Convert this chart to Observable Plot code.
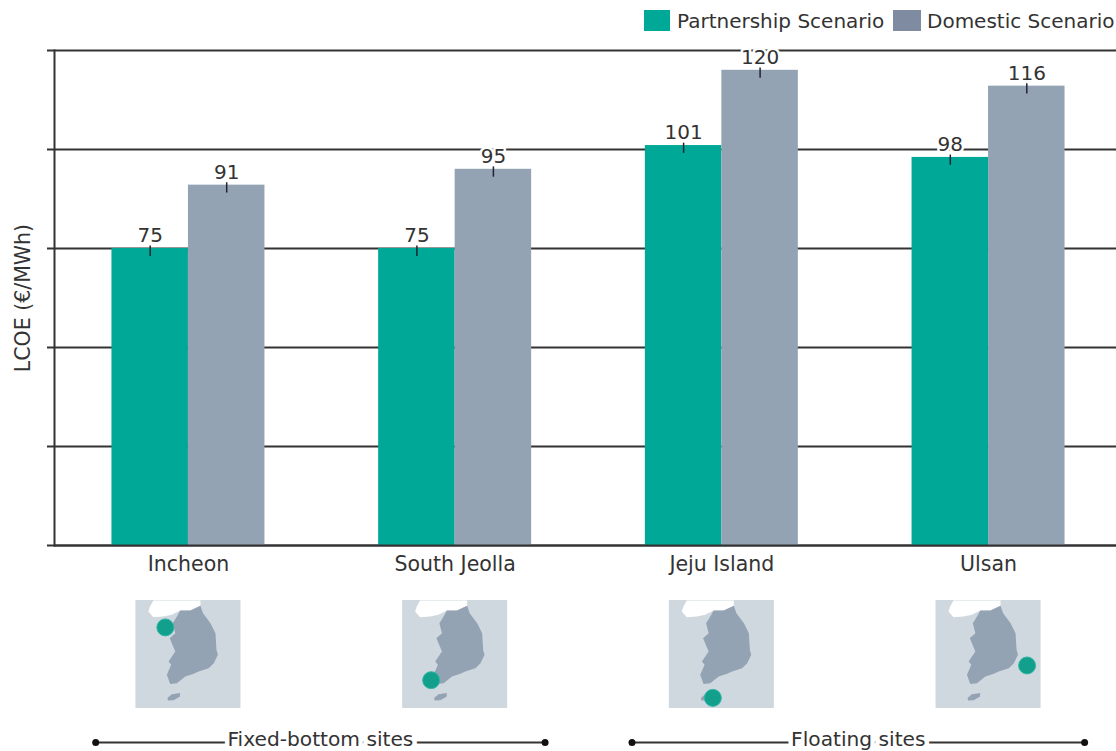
<!DOCTYPE html>
<html>
<head>
<meta charset="utf-8">
<script src="https://cdn.jsdelivr.net/npm/d3@7"></script>
<script src="https://cdn.jsdelivr.net/npm/@observablehq/plot@0.6"></script>
<style>
  html, body { margin: 0; padding: 0; background: #fff; overflow: hidden; }
  body { width: 1116px; height: 751px; font-family: "DejaVu Sans", sans-serif; color: #333; }
  svg { display: block; }
  #legend { height: 40px; position: relative; font-size: 20px; line-height: 22px; }
  #legend span { position: absolute; top: 10px; white-space: nowrap; }
  #legend i { position: absolute; top: 10px; height: 21px; display: block; }
</style>
</head>
<body>
<div id="legend"></div>
<div id="chart"></div>
<script>
const sites = ["Incheon", "South Jeolla", "Jeju Island", "Ulsan"];
const scenarios = ["Partnership Scenario", "Domestic Scenario"];
const partnership = [75, 75, 101, 98];
const domestic = [91, 95, 120, 116];
const yTicks = [0, 25, 50, 75, 100, 125];

const barColors = ["#00a898", "#94a3b4"];
const legendColors = ["#00a898", "#7f8ba1"];
const ink = "#333";

// Location dot for each site on its small map (lon, lat)
const siteLon = [126.06, 126.0, 127.0, 130.17];
const siteLat = [37.28, 34.3, 33.3, 35.13];

// Small-map outlines (lon, lat)
const southLon = [128.40, 128.57, 129.07, 129.40, 129.47, 129.56, 129.29, 128.95, 128.28, 127.95, 127.39, 126.83, 126.38, 126.16, 126.45, 126.27, 126.72, 126.35, 126.72, 126.55, 126.83, 127.05, 127.72];
const southLat = [38.50, 38.08, 37.52, 36.95, 36.01, 35.73, 35.26, 34.98, 34.79, 34.66, 34.51, 34.13, 34.09, 34.60, 35.17, 35.35, 35.92, 36.67, 36.95, 37.52, 37.90, 38.24, 38.24];
const northLon = [125.04, 125.26, 128.40, 128.40, 127.72, 127.05, 126.49, 125.93, 125.26, 124.93];
const northLat = [38.46, 38.80, 38.80, 38.50, 38.24, 38.24, 37.99, 37.90, 37.86, 38.18];
const jejuLon = [126.20, 126.49, 127.05, 127.02, 126.61, 126.24];
const jejuLat = [33.30, 33.50, 33.58, 33.36, 33.17, 33.15];
const mapLon = [124.1, 131.1];
const mapLat = [32.7, 38.8];

// Site groupings, in units of site slots (0 = Incheon ... 3 = Ulsan)
const groups = ["Fixed-bottom sites", "Floating sites"];
const groupStart = [-0.348, 1.663];
const groupEnd = [1.337, 3.36];

const slotRange = [54.6, 1121.4];
const font = {fontFamily: "DejaVu Sans"};
const barW = 76.5;
const slot = (slotRange[1] - slotRange[0]) / sites.length;

// Legend
const legend = document.getElementById("legend");
const legendLayout = [[644, 26, 677], [893, 28, 927]];
scenarios.forEach((s, i) => {
  const sw = document.createElement("i");
  sw.style.left = legendLayout[i][0] + "px";
  sw.style.width = legendLayout[i][1] + "px";
  sw.style.background = legendColors[i];
  legend.appendChild(sw);
  const t = document.createElement("span");
  t.style.left = legendLayout[i][2] + "px";
  t.textContent = s;
  legend.appendChild(t);
});

function seriesMarks(values, color, side) {
  const idx = d3.range(sites.length);
  const xs = idx.map(i => sites[i]);
  const outer = slot / 2 - barW;
  const inner = slot / 2;
  const dx = side * barW / 2;
  return [
    Plot.barY(idx, {
      x: i => xs[i], y: i => values[i], fill: color,
      insetLeft: side < 0 ? outer : inner,
      insetRight: side < 0 ? inner : outer
    }),
    Plot.text(idx, {x: i => xs[i], y: i => values[i], text: i => String(values[i]), dx, dy: -13, fontSize: 20, fill: ink, stroke: "white", strokeWidth: 5}),
    Plot.ruleX(idx, {x: i => xs[i], y1: i => values[i] + 0.6, y2: i => values[i] - 2, dx, stroke: "#223", strokeWidth: 1.5})
  ];
}

const chart = Plot.plot({
  width: 1116, height: 550,
  marginTop: 10, marginBottom: 45, marginLeft: 54, marginRight: 0,
  style: {...font, background: "transparent", color: ink},
  x: {domain: sites, range: slotRange, padding: 0, round: false, axis: null},
  y: {domain: [0, 125], axis: null},
  marks: [
    Plot.ruleY(yTicks, {stroke: ink, strokeWidth: 2}),
    Plot.axisY({ticks: yTicks, tickFormat: () => "", tickSize: 7, stroke: ink, strokeWidth: 2, label: null}),
    ...seriesMarks(partnership, barColors[0], -1),
    ...seriesMarks(domestic, barColors[1], 1),
    Plot.ruleY([0], {stroke: ink, strokeWidth: 2}),
    Plot.frame({anchor: "left", stroke: ink, strokeWidth: 2}),
    Plot.axisX({anchor: "bottom", tickSize: 0, tickPadding: 11, fontSize: 20.5, label: null}),
    Plot.text(["LCOE (€/MWh)"], {frameAnchor: "left", textAnchor: "middle", rotate: -90, dx: -31, fontSize: 20.5, fill: ink})
  ]
});
document.getElementById("chart").appendChild(chart);

// Small maps
const asPoly = (lon, lat, part) => lon.map((x, i) => ({part, x, y: lat[i]}));
const closed = {curve: "linear-closed", stroke: "none"};
const mapLeft = 54 + slot / 2 - 52.5;
const maps = Plot.plot({
  width: 1116, height: 122,
  marginTop: 10, marginBottom: 4, marginLeft: 54, marginRight: 0,
  style: {...font, background: "transparent"},
  fx: {domain: sites, range: slotRange, padding: 0, round: false, axis: null, label: null},
  x: {domain: mapLon, range: [mapLeft, mapLeft + 105], axis: null},
  y: {domain: mapLat, axis: null},
  marks: [
    Plot.rect([0], {x1: () => mapLon[0], x2: () => mapLon[1], y1: () => mapLat[0], y2: () => mapLat[1], fill: "#cfd8df"}),
    Plot.line(asPoly(northLon, northLat, "north"), {x: "x", y: "y", fill: "white", ...closed}),
    Plot.line(asPoly(southLon, southLat, "south"), {x: "x", y: "y", fill: "#94a3b4", ...closed}),
    Plot.line(asPoly(jejuLon, jejuLat, "jeju"), {x: "x", y: "y", fill: "#94a3b4", ...closed}),
    Plot.dot(sites, {fx: d => d, x: (d, i) => siteLon[i], y: (d, i) => siteLat[i], r: 8.5, fill: "#12a08c", stroke: "#2fb7a6", strokeWidth: 1})
  ]
});
document.getElementById("chart").appendChild(maps);

// Group brackets
const gIdx = d3.range(groups.length);
const mid = i => (groupStart[i] + groupEnd[i]) / 2;
const brackets = Plot.plot({
  width: 1116, height: 39,
  margin: 0,
  style: {...font, background: "transparent", color: ink},
  x: {domain: [0, 1], range: [188, 188 + slot], axis: null},
  y: {domain: [0, 1], range: [30, 0], axis: null},
  marks: [
    Plot.link(gIdx, {x1: i => groupStart[i], x2: i => groupEnd[i], y1: () => 0, y2: () => 0, stroke: ink, strokeWidth: 2}),
    Plot.dot(gIdx, {x: i => groupStart[i], y: () => 0, r: 3.5, fill: "#111", stroke: "none"}),
    Plot.dot(gIdx, {x: i => groupEnd[i], y: () => 0, r: 3.5, fill: "#111", stroke: "none"}),
    Plot.text(gIdx, {x: mid, y: () => 0, text: i => groups[i], dy: -3, fontSize: 20.2, fill: ink, stroke: "white", strokeWidth: 9})
  ]
});
document.getElementById("chart").appendChild(brackets);
</script>
</body>
</html>
